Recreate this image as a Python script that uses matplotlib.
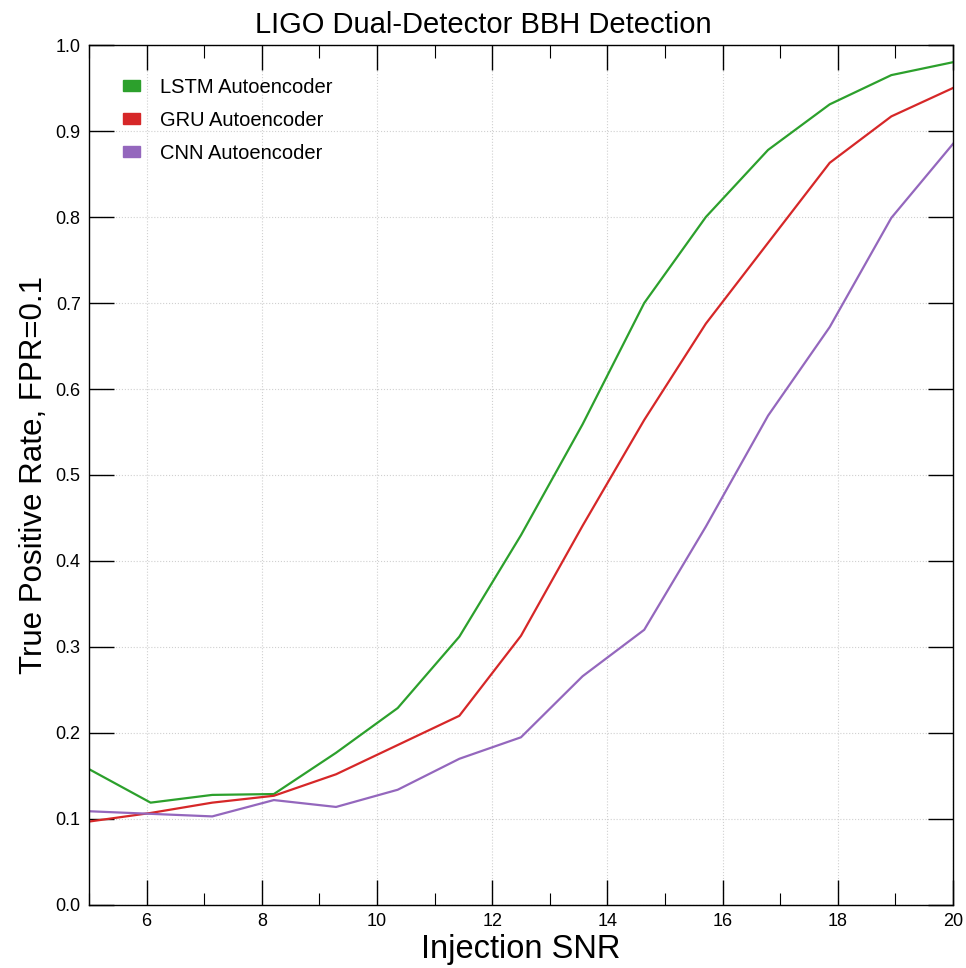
import matplotlib
matplotlib.use("Agg")
import matplotlib.pyplot as plt
from matplotlib.patches import Patch
from matplotlib.ticker import MultipleLocator, FormatStrFormatter
from matplotlib import font_manager

# Injection SNR points (15 evenly spaced between 5 and 20)
snr = [5.0, 6.07, 7.14, 8.21, 9.29, 10.36, 11.43, 12.5, 13.57, 14.64,
       15.71, 16.79, 17.86, 18.93, 20.0]

lstm = [0.158, 0.119, 0.128, 0.129, 0.177, 0.229, 0.312, 0.430, 0.559, 0.700,
        0.800, 0.878, 0.931, 0.965, 0.980]
gru = [0.097, 0.107, 0.119, 0.127, 0.152, 0.186, 0.220, 0.313, 0.441, 0.564,
       0.676, 0.770, 0.863, 0.917, 0.950]
cnn = [0.109, 0.106, 0.103, 0.122, 0.114, 0.134, 0.170, 0.195, 0.266, 0.320,
       0.440, 0.569, 0.672, 0.799, 0.885]

labels = ["LSTM Autoencoder", "GRU Autoencoder", "CNN Autoencoder"]
colors = ["#2ca02c", "#d62728", "#9467bd"]

plt.rcParams['font.family'] = ['Liberation Sans', 'DejaVu Sans']

# narrow face for tick labels if it exists
names = {f.name for f in font_manager.fontManager.ttflist}
tick_font = 'Liberation Sans Narrow' if 'Liberation Sans Narrow' in names else 'Liberation Sans'

fig = plt.figure(figsize=(9.66, 9.68), dpi=100)
ax = fig.add_axes([0.0921, 0.0651, 0.8944, 0.8884])

for ys, lab, c in zip([lstm, gru, cnn], labels, colors):
    ax.plot(snr, ys, color=c, lw=1.6, label=lab)

ax.set_xlim(5, 20)
ax.set_ylim(0, 1)
ax.xaxis.set_major_locator(MultipleLocator(2))
ax.xaxis.set_minor_locator(MultipleLocator(1))
ax.yaxis.set_major_locator(MultipleLocator(0.1))
ax.yaxis.set_major_formatter(FormatStrFormatter('%.1f'))

ax.tick_params(which='major', direction='in', length=18, width=1,
               top=True, right=True, labelsize=13, pad=6)
ax.tick_params(which='minor', direction='in', length=9, width=0.8,
               top=True, right=False, left=False)
for lab in ax.get_xticklabels() + ax.get_yticklabels():
    lab.set_fontfamily(tick_font)

ax.grid(True, which='major', color='#d0d0d0', linestyle=':', linewidth=0.8)
for s in ax.spines.values():
    s.set_linewidth(1.0)

fig.text(0.5, 0.966, "LIGO Dual-Detector BBH Detection", fontsize=21,
         ha='center', va='baseline')
ax.set_xlabel("Injection SNR", fontsize=23.5, labelpad=3)
ax.set_ylabel("True Positive Rate, FPR=0.1", fontsize=22.5, labelpad=5)

handles = [Patch(facecolor=c, edgecolor=c) for c in colors]
ax.legend(handles, labels, loc='upper left', frameon=False, fontsize=14.5,
          handlelength=0.85, handleheight=0.45, handletextpad=1.0,
          labelspacing=0.7, bbox_to_anchor=(0.018, 0.983))

fig.savefig("out.png", dpi=100)
